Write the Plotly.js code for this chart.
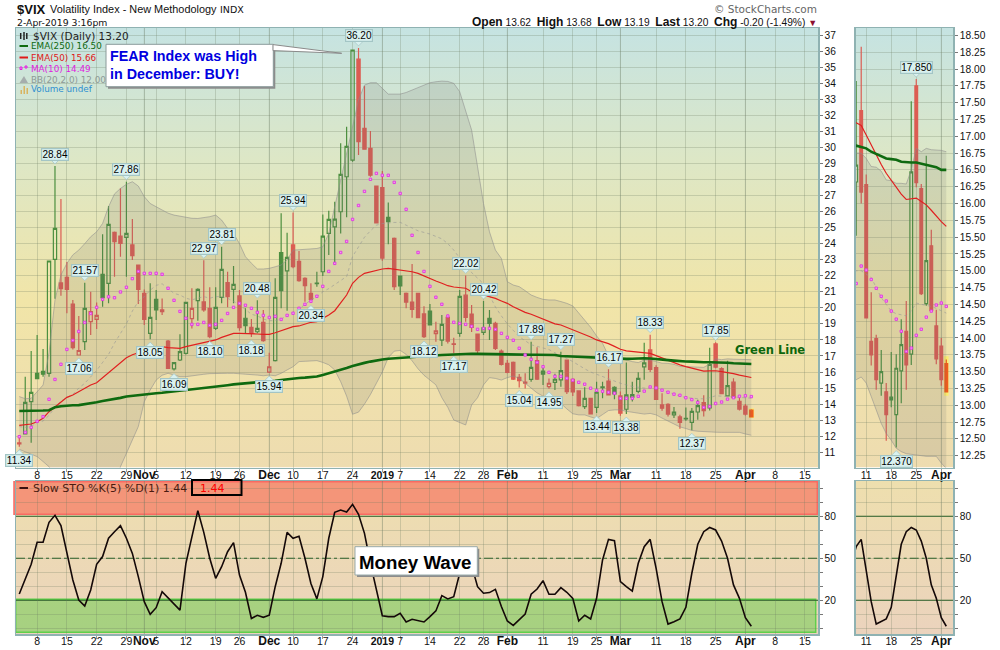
<!DOCTYPE html>
<html><head><meta charset="utf-8">
<script src="https://cdn.plot.ly/plotly-3.0.1.min.js"></script>
<style>html,body{margin:0;padding:0;background:#fff}#c{width:1000px;height:650px}</style>
</head><body><div id="c"></div><script>
const open=[11.58,12.14,14.15,15.92,16.04,15.92,23.02,21.55,21.90,20.24,17.06,17.89,19.14,19.28,22.09,21.52,24.70,24.47,24.39,23.92,22.67,20.90,18.41,20.53,19.87,17.93,16.20,16.75,17.16,19.33,20.45,20.37,19.97,18.72,20.65,21.58,21.15,20.74,19.35,18.78,18.51,19.10,16.00,16.71,23.45,22.31,23.92,22.90,21.84,20.90,21.50,22.25,24.64,25.05,25.99,28.17,29.20,35.50,31.18,29.94,27.59,27.50,25.64,24.33,21.98,20.90,20.36,20.90,19.62,19.80,18.39,17.99,19.41,17.76,18.41,20.79,19.61,18.37,18.47,19.34,19.03,17.31,16.54,16.60,15.67,15.37,15.54,16.71,16.06,15.09,15.36,15.51,16.75,15.55,14.82,13.85,14.36,13.80,15.03,15.44,15.05,14.51,13.68,14.43,14.80,16.32,17.38,16.28,13.95,13.99,13.33,13.20,13.12,12.86,13.51,14.10,13.76,17.75,16.22,14.51,15.37,14.18,13.88,13.62];
const high=[12.08,15.71,17.31,18.31,17.43,22.92,28.84,26.78,22.86,20.49,19.49,21.57,21.00,20.34,24.58,26.35,24.75,27.46,27.86,25.53,22.68,21.15,21.53,21.11,20.59,18.00,16.60,18.35,20.34,21.22,21.22,22.97,21.28,21.28,23.81,22.25,22.60,21.11,19.97,19.30,20.48,19.87,17.20,21.85,25.90,24.68,25.94,23.54,21.90,21.53,22.25,25.82,26.05,26.61,30.25,31.29,36.07,36.20,33.82,31.02,27.60,28.53,26.57,24.39,22.00,20.95,22.73,20.90,20.10,20.24,19.13,19.55,19.59,18.14,21.11,22.02,20.17,18.37,20.42,19.86,19.13,17.40,16.75,16.65,15.88,15.92,17.89,17.54,16.33,15.60,15.90,17.27,16.78,15.60,14.85,15.05,14.40,15.40,15.40,16.17,15.12,14.78,16.59,15.40,15.98,17.82,18.33,16.43,14.68,14.05,13.82,13.33,13.79,13.76,14.28,14.55,17.52,17.85,16.29,16.71,15.61,14.42,14.00,13.68];
const low=[11.34,12.14,11.60,15.59,15.71,15.71,20.57,20.76,19.66,17.41,17.06,17.37,18.31,18.68,20.07,20.28,21.94,23.19,21.94,22.98,20.24,18.93,18.05,19.24,19.55,16.23,16.09,16.69,17.10,18.72,19.20,19.76,18.10,18.62,20.28,20.03,20.28,18.57,18.37,18.18,18.41,17.89,15.94,16.65,19.97,19.82,22.46,21.63,20.38,20.34,21.31,21.98,23.29,22.67,24.64,25.64,29.10,29.52,29.89,28.17,25.26,22.94,23.97,21.11,20.80,19.97,19.39,19.39,18.12,18.93,17.89,17.62,17.78,17.17,18.20,19.14,18.50,17.17,18.30,18.00,17.37,16.40,15.92,15.50,15.04,14.98,15.40,15.50,15.19,14.95,14.88,15.09,14.63,14.51,13.85,13.70,13.39,13.44,14.36,14.57,14.30,13.28,13.38,14.16,14.68,15.52,16.00,14.30,13.59,13.23,13.14,12.47,12.97,12.37,13.03,13.23,13.60,16.24,14.64,14.48,14.39,13.61,13.29,13.19];
const close=[11.52,14.11,14.73,15.59,15.86,22.92,24.95,21.19,21.15,17.52,17.34,19.97,19.76,19.53,20.63,25.20,24.12,24.02,24.64,23.25,21.15,19.28,19.41,19.87,19.76,16.23,16.58,17.27,20.34,19.97,21.15,19.87,18.20,20.03,22.40,20.69,21.46,18.76,18.89,18.41,18.72,17.95,16.33,20.65,21.07,23.15,22.56,21.69,21.38,20.53,21.54,24.47,25.51,25.53,28.32,30.06,36.07,30.35,29.89,28.27,25.30,23.10,25.37,21.32,21.36,20.36,19.90,19.39,18.20,18.93,18.56,18.97,17.93,17.72,20.71,19.41,18.78,17.33,18.76,19.03,17.47,16.48,15.98,15.56,15.46,15.30,16.29,15.56,15.87,15.30,15.55,16.09,14.78,14.76,13.91,14.36,13.39,14.74,15.07,14.57,14.63,13.43,14.57,14.60,15.61,16.57,16.17,14.30,13.75,13.38,13.50,12.86,13.08,13.55,13.90,13.60,16.47,16.31,14.66,15.15,14.41,13.69,13.38,13.20];
const ema250=[13.57,13.57,13.58,13.58,13.60,13.62,13.80,13.87,13.92,13.93,13.94,13.99,14.05,14.12,14.20,14.25,14.30,14.39,14.47,14.52,14.57,14.61,14.65,14.68,14.71,14.75,14.78,14.83,14.88,14.91,14.94,14.99,15.03,15.08,15.13,15.18,15.23,15.27,15.30,15.33,15.36,15.38,15.40,15.45,15.50,15.55,15.61,15.63,15.65,15.67,15.72,15.82,15.92,16.02,16.13,16.25,16.37,16.48,16.57,16.65,16.73,16.78,16.83,16.86,16.89,16.92,16.95,16.97,17.00,17.02,17.04,17.06,17.08,17.10,17.13,17.15,17.14,17.13,17.12,17.12,17.11,17.11,17.10,17.10,17.09,17.09,17.08,17.08,17.07,17.07,17.06,17.00,16.98,16.96,16.95,16.93,16.92,16.90,16.88,16.86,16.84,16.82,16.82,16.83,16.85,16.86,16.84,16.82,16.77,16.74,16.71,16.67,16.66,16.65,16.62,16.61,16.61,16.61,16.59,16.58,16.55,16.54,16.50,16.50];
const ema50=[12.68,12.70,12.76,12.90,13.12,13.53,13.84,14.15,14.42,14.57,14.78,14.96,15.19,15.33,15.65,15.92,16.23,16.58,16.89,17.08,17.20,17.43,17.53,17.58,17.58,17.52,17.48,17.48,17.58,17.66,17.75,17.83,17.89,18.00,18.16,18.27,18.41,18.41,18.41,18.41,18.37,18.35,18.35,18.45,18.58,18.68,18.83,18.87,18.99,19.10,19.14,19.35,19.55,19.82,20.28,20.80,21.53,21.90,22.15,22.25,22.36,22.42,22.46,22.40,22.36,22.32,22.25,22.15,21.98,21.84,21.67,21.53,21.38,21.30,21.26,21.22,21.00,20.90,20.80,20.70,20.59,20.43,20.28,20.07,19.87,19.72,19.60,19.45,19.31,19.14,19.00,18.93,18.78,18.62,18.50,18.37,18.18,18.00,17.90,17.77,17.60,17.42,17.32,17.27,17.23,17.20,17.16,17.02,16.87,16.72,16.58,16.45,16.34,16.24,16.14,16.06,16.07,16.08,16.03,15.98,15.90,15.81,15.73,15.66];
const ma10=[11.97,12.24,12.55,12.93,13.22,14.30,15.54,16.48,17.41,17.97,18.53,19.09,19.65,20.03,20.53,20.69,20.63,20.99,21.28,21.82,22.27,22.15,22.15,22.15,22.09,21.22,20.47,19.78,19.35,18.97,18.97,19.09,18.91,18.97,19.22,19.65,20.03,20.28,20.16,19.97,19.72,19.53,19.40,19.47,19.28,19.53,19.66,19.97,20.22,20.41,20.72,21.34,22.27,22.77,23.45,24.14,25.51,26.38,27.26,28.01,28.38,28.26,28.26,27.82,27.13,26.14,24.52,23.45,22.27,21.34,20.66,20.22,19.49,19.10,19.03,18.97,18.85,18.66,18.72,18.72,18.66,18.41,18.16,17.98,17.48,17.06,16.79,16.60,16.33,15.98,15.73,15.73,15.61,15.49,15.36,15.24,14.99,14.86,14.80,14.74,14.68,14.36,14.36,14.36,14.49,14.81,15.07,15.01,14.87,14.74,14.62,14.55,14.40,14.28,14.10,13.80,13.85,14.04,14.13,14.31,14.40,14.49,14.52,14.47];
const bbUpper=[14.47,14.34,14.36,14.78,15.19,17.20,20.49,22.05,22.77,23.30,23.60,24.00,24.43,24.74,25.26,26.30,27.10,27.44,27.70,27.86,27.59,26.93,26.50,26.30,26.10,25.90,25.78,25.70,25.62,25.58,25.57,25.62,25.68,25.78,25.47,24.95,24.64,24.00,23.19,22.78,22.42,22.42,22.46,22.56,22.67,22.98,23.60,23.62,23.65,23.68,23.70,23.80,24.64,26.30,27.96,29.41,31.28,32.95,33.88,34.03,34.03,33.68,33.32,33.32,33.32,33.42,33.57,33.71,33.88,34.03,34.09,34.13,34.11,33.99,33.47,32.32,31.08,28.79,26.50,24.74,23.60,23.08,21.63,21.42,21.32,21.07,20.80,20.65,20.53,20.49,20.49,20.39,20.28,20.12,19.66,19.18,18.79,18.25,17.79,17.00,16.90,16.86,16.75,16.65,16.59,16.75,16.75,16.67,16.55,16.54,16.48,16.35,16.34,16.30,16.30,16.29,16.50,16.82,16.77,16.82,16.80,16.80,16.79,16.77];
const bbLower=[11.18,11.04,10.89,10.73,10.42,10.10,9.50,8.90,8.30,7.90,7.60,7.30,7.10,7.00,7.30,7.70,8.30,10.10,10.93,11.77,12.60,14.15,14.88,15.50,15.80,15.92,15.80,15.71,15.71,15.77,15.81,15.86,15.90,15.92,15.92,15.92,15.92,15.90,15.88,15.84,15.81,15.77,15.81,15.77,15.92,16.13,16.33,16.65,16.68,16.70,16.71,16.60,16.45,16.13,15.40,14.50,13.37,13.50,14.00,14.60,15.30,16.00,16.90,17.30,17.35,17.10,16.70,16.20,15.80,15.50,15.20,14.40,13.80,13.01,12.85,12.70,13.95,14.40,15.20,15.65,15.60,15.50,15.65,15.75,15.60,15.30,14.95,14.70,14.50,14.35,14.20,14.05,13.70,13.40,13.33,13.33,13.20,13.10,13.35,13.60,13.64,13.64,13.55,13.50,13.43,13.38,13.42,13.33,13.13,12.93,12.73,12.58,12.48,12.36,12.31,12.28,12.27,12.25,12.24,12.24,12.24,12.24,12.14,12.06];
const bbMid=[12.60,12.55,12.60,12.85,12.95,13.30,13.80,14.20,14.40,14.60,15.00,15.30,15.70,16.10,16.60,17.10,17.80,18.40,19.00,19.80,20.40,20.70,21.10,21.40,21.50,21.20,20.90,20.80,20.60,20.50,20.60,20.70,20.60,20.70,20.70,20.60,20.40,20.20,19.90,19.60,19.50,19.30,19.20,19.20,19.30,19.50,19.70,19.95,20.20,20.50,20.70,21.00,21.20,21.45,21.70,21.95,23.20,23.80,24.40,24.80,25.15,25.25,25.30,25.32,25.33,25.15,24.95,24.80,24.70,24.60,24.45,24.30,24.00,23.60,23.10,22.55,22.20,21.85,21.50,20.80,20.05,19.50,19.00,18.60,18.20,17.95,17.70,17.60,17.50,17.40,17.20,17.05,16.85,16.65,16.40,16.20,16.00,15.85,15.70,15.60,15.45,15.30,15.20,15.10,15.05,15.00,15.00,14.95,14.90,14.75,14.60,14.50,14.40,14.36,14.34,14.33,14.40,14.52,14.50,14.49,14.47,14.44,14.40,14.37];
const stoK=[24.5,35.7,45.7,61.4,61.4,75.7,80.7,73.3,54.7,34.5,20.2,15.9,27.4,45.7,51.2,64.3,69,73.3,64.3,53.5,36.9,19,10,14.7,26.2,21.9,17.4,13,46.4,65.5,84,68.5,50,35.7,44,54.7,61.2,38,25.7,7,9.3,7.8,9.3,29.7,46.4,68.5,64.3,65.7,50,32,21,36.9,64.3,82.8,84.5,83,88.5,81.4,67.8,46.4,28.5,9,8.3,8.3,10.7,4.5,6.4,5.7,4.5,8.3,12.4,23.3,21,22.6,39.3,52,45,29.7,25,25.5,27.8,15.5,5.2,2.1,5.9,10.2,24.3,28,34,24.3,24.3,29,25.7,21.4,5.2,9.3,6.7,21.4,48.8,63.5,62.6,33.3,29.7,26.6,46.4,58.3,63.5,42.8,19,3,4.7,6.7,15,39.3,60,69,72,70.2,62.3,50,31,21.4,7.6,1.44];
const tickIdx=[3,8,13,18,21,23,28,33,37,42,46,51,56,61,64,69,74,78,82,88,93,97,101,107,112,117,122,127,132];
const MB=(t,s)=>`<b style="font-family:'Liberation Sans';font-size:${s||12}px">${t}</b>`;
const tickLabels=["8","15","22","29",MB("Nov"),"5","12","19","26",MB("Dec"),"10","17","24",MB("2019",10.5),"7","14","22","28",MB("Feb"),"11","19","25",MB("Mar"),"11","18","25",MB("Apr"),"8","15"];
const monthIdx=[21,42,61,82,101,122];
const miniTickIdx=[107,112,117,122];
const miniTickLabels=["11","18","25",MB("Apr")];
const labelIdx=[0,6,11,10,18,22,26,31,32,34,40,39,42,46,49,57,68,75,73,78,84,86,89,91,99,97,102,106,113,117];
const labelVal=[11.34,28.84,21.57,17.06,27.86,18.05,16.09,22.97,18.10,23.81,20.48,18.18,15.94,25.94,20.34,36.20,18.12,22.02,17.17,20.42,15.04,17.89,14.95,17.27,16.17,13.44,13.38,18.33,12.37,17.85];
const labelUp=[0,1,1,0,1,0,0,1,0,1,1,0,0,1,0,1,0,1,0,1,0,1,0,1,1,0,0,1,0,1];
const priceTicks=[];for(let v=11;v<=37;v++)priceTicks.push(v);
const miniTicks=[];for(let v=12.25;v<=18.5;v+=0.25)miniTicks.push(v);
const stoTicks=[0,10,20,30,40,50,60,70,80,90,100];
const stoTickText=["","","20","","","50","","","80","",""];

const W=1000,H=650;
const px=x=>x/W, py=y=>1-y/H;
const P={main:[16,818,28,467.5],sto:[16,818,481,634.3],mini:[855.7,953.3,28,467.5],msto:[855.7,953.3,481,634.3]};
const idx=open.map((_,i)=>i);
const FONT='"DejaVu Sans"';
const LIB='"Liberation Sans"';
const GREEN='#4c8f3f',RED='#dc5c52';
function sub(a,keep){return keep.map(i=>a[i]);}
const grn=idx.filter(i=>i<123&&(i===0?false:close[i]>close[i-1]));
const red=idx.filter(i=>i<123&&!(i===0?false:close[i]>close[i-1]));
function candle(keep,col,xa,ya,w){
 return {type:'candlestick',x:sub(idx,keep),open:sub(open,keep),high:sub(high,keep),low:sub(low,keep),close:sub(close,keep),xaxis:xa,yaxis:ya,whiskerwidth:0,hoverinfo:'skip',showlegend:false,
  increasing:{line:{color:col,width:w},fillcolor:'rgba(0,0,0,0)'},decreasing:{line:{color:col,width:w},fillcolor:col}};
}
function overlays(xa,ya){
 return [
  {type:'scatter',mode:'lines',x:idx,y:bbUpper,xaxis:xa,yaxis:ya,line:{color:'rgba(140,140,140,0.55)',width:1},hoverinfo:'skip',showlegend:false},
  {type:'scatter',mode:'lines',x:idx,y:bbLower,xaxis:xa,yaxis:ya,fill:'tonexty',fillcolor:'rgba(110,110,110,0.16)',line:{color:'rgba(140,140,140,0.55)',width:1},hoverinfo:'skip',showlegend:false},
  {type:'scatter',mode:'lines',x:idx,y:bbMid,xaxis:xa,yaxis:ya,line:{color:'rgba(150,150,150,0.6)',width:1,dash:'dot'},hoverinfo:'skip',showlegend:false}
 ];
}
function lines(xa,ya){
 return [
  {type:'scatter',mode:'lines',x:idx,y:ema50,xaxis:xa,yaxis:ya,line:{color:'#e02020',width:1.2},hoverinfo:'skip',showlegend:false},
  {type:'scatter',mode:'lines',x:idx,y:ema250,xaxis:xa,yaxis:ya,line:{color:'#0f6a10',width:2.6},hoverinfo:'skip',showlegend:false},
  {type:'scatter',mode:'markers',x:idx,y:ma10,xaxis:xa,yaxis:ya,marker:{symbol:'square',size:2.4,color:'#f49cf0',line:{color:'#e236e2',width:0.9}},hoverinfo:'skip',showlegend:false}
 ];
}
const data=[
 ...overlays('x','y'),
 candle(grn,GREEN,'x','y',1.2),candle(red,RED,'x','y',1.2),candle([123],'#ee5a1c','x','y',1.2),
 ...lines('x','y'),
 {type:'scatter',mode:'lines',x:idx,y:stoK,xaxis:'x2',yaxis:'y2',line:{color:'#140808',width:1.6},hoverinfo:'skip',showlegend:false},
 ...overlays('x3','y3'),
 candle(grn,GREEN,'x3','y3',1.2),candle(red,RED,'x3','y3',1.2),candle([123],'#ee5a1c','x3','y3',1.2),
 ...lines('x3','y3'),
 {type:'scatter',mode:'lines',x:idx,y:stoK,xaxis:'x4',yaxis:'y4',line:{color:'#140808',width:1.6},hoverinfo:'skip',showlegend:false}
];
const BORDER='#8fb2b2',GRID='rgba(110,125,95,0.26)';
function xax(p,anchor,range,tv,tt){return {domain:[px(p[0]),px(p[1])],range,anchor,tickmode:'array',tickvals:tv,ticktext:tt,ticks:'outside',ticklen:3,tickcolor:'#999',ticklabelstandoff:-6,showline:true,mirror:true,linecolor:BORDER,linewidth:1.5,showgrid:true,gridcolor:GRID,gridwidth:1,zeroline:false,rangeslider:{visible:false},tickfont:{family:LIB,size:10.5,color:'#111'},fixedrange:true,tickangle:0};}
function yax(p,anchor,range,tv,tt,fs){return {domain:[py(p[3]),py(p[2])],range,anchor,side:'right',tickmode:'array',tickvals:tv,ticktext:tt,ticks:'outside',ticklen:3,tickcolor:'#777',showline:true,mirror:true,linecolor:BORDER,linewidth:1.5,showgrid:true,gridcolor:GRID,gridwidth:1,zeroline:false,tickfont:{family:LIB,size:fs||10.2,color:'#111'},fixedrange:true};}
const xrMain=[-0.55,134.2],xrMini=[104.9,124.4];
const layout={width:W,height:H,margin:{l:0,r:0,t:0,b:0,pad:0},paper_bgcolor:'#fff',plot_bgcolor:'rgba(0,0,0,0)',showlegend:false,boxgap:0.22,font:{family:FONT,size:11},
 xaxis:xax(P.main,'y',xrMain,tickIdx,tickLabels),
 yaxis:yax(P.main,'x',[10.05,37.44],priceTicks,priceTicks.map(String)),
 xaxis2:xax(P.sto,'y2',xrMain,tickIdx,tickLabels),
 yaxis2:yax(P.sto,'x2',[-4.3,105.2],stoTicks,stoTickText),
 xaxis3:xax(P.mini,'y3',xrMini,miniTickIdx,miniTickLabels),
 yaxis3:yax(P.mini,'x3',[12.074,18.61],miniTicks,miniTicks.map(v=>v.toFixed(2))),
 xaxis4:xax(P.msto,'y4',xrMini,miniTickIdx,miniTickLabels),
 yaxis4:yax(P.msto,'x4',[-4.3,105.2],stoTicks,stoTickText),
 images:[],shapes:[],annotations:[]};
function grad(stops){const s=stops.map(a=>`<stop offset="${a[0]}" stop-color="${a[1]}"/>`).join('');
 return 'data:image/svg+xml;utf8,'+encodeURIComponent(`<svg xmlns="http://www.w3.org/2000/svg" width="100" height="100" viewBox="0 0 100 100" preserveAspectRatio="none"><defs><linearGradient id="g" x1="0" y1="0" x2="0" y2="1">${s}</linearGradient></defs><rect width="100" height="100" fill="url(#g)"/></svg>`);}
const priceGrad=grad([[0,'#c5e3e2'],[0.3,'#dde7c6'],[0.62,'#f1e5a8'],[1,'#eedcb0']]);
const stoGrad=grad([[0,'#eedfae'],[1,'#ebd3bd']]);
[[P.main,priceGrad],[P.mini,priceGrad],[P.sto,stoGrad],[P.msto,stoGrad]].forEach(([p,g])=>layout.images.push({source:g,xref:'paper',yref:'paper',x:px(p[0]),y:py(p[2]),sizex:(p[1]-p[0])/W,sizey:(p[3]-p[2])/H,sizing:'stretch',xanchor:'left',yanchor:'top',layer:'below'}));
const S=layout.shapes,A=layout.annotations;
function rect(x0,y0,x1,y1,fill,lc,lw,layer){S.push({type:'rect',xref:'paper',yref:'paper',x0:px(x0),x1:px(x1),y0:py(y0),y1:py(y1),fillcolor:fill,line:{color:lc||'rgba(0,0,0,0)',width:lw||0},layer:layer||'above'});}
rect(14,481.7,817.3,514.3,'rgba(246,120,100,0.72)','#f96a62',1.5,'below');
rect(15.7,599.3,815.7,632.3,'rgba(100,205,70,0.5)','#5fd04b',1.5,'below');
monthIdx.forEach(m=>{[['x','y'],['x2','y2']].forEach(([xa,ya])=>S.push({type:'line',xref:xa,yref:ya+' domain',x0:m,x1:m,y0:0,y1:1,line:{color:'rgba(95,115,95,0.22)',width:1},layer:'below'}));});
[['x3','y3'],['x4','y4']].forEach(([xa,ya])=>S.push({type:'line',xref:xa,yref:ya+' domain',x0:122,x1:122,y0:0,y1:1,line:{color:'rgba(95,115,95,0.22)',width:1},layer:'below'}));
[['x2','y2'],['x4','y4']].forEach(([xa,ya])=>{
 S.push({type:'line',xref:xa+' domain',yref:ya,x0:0,x1:1,y0:80,y1:80,line:{color:'#1c5a1c',width:1},layer:'below'});
 S.push({type:'line',xref:xa+' domain',yref:ya,x0:0,x1:1,y0:50,y1:50,line:{color:'#1c5a1c',width:1,dash:'dashdot'},layer:'below'});
 S.push({type:'line',xref:xa+' domain',yref:ya,x0:0,x1:1,y0:20,y1:20,line:{color:'#1c5a1c',width:1},layer:'below'});
});
[['x','y'],['x3','y3']].forEach(([xa,ya])=>S.push({type:'rect',xref:xa,yref:ya,x0:122.55,x1:123.45,y0:low[123]-0.05,y1:high[123]+0.05,fillcolor:'rgba(255,240,90,0.75)',line:{width:0},layer:'below'}));
rect(108,46.3,275.3,88.7,'#8c8c8c');
rect(106,44.3,273.3,86.7,'#ffffff','#8a9a9a',1);
S.push({type:'path',xref:'paper',yref:'paper',path:`M ${px(273)} ${py(44.6)} L ${px(341.7)} ${py(53.3)} L ${px(273)} ${py(50.6)} Z`,fillcolor:'#ffffff',line:{color:'#8a8a8a',width:1},layer:'above'});
rect(357,548.7,479.3,577,'#8c8c8c');
rect(355,546.7,477.3,575,'#ffffff','#9aa',1);
rect(192,480,241.5,495,'rgba(0,0,0,0)','#000',2);
function T(x,y,text,size,color,opt){A.push(Object.assign({xref:'paper',yref:'paper',x:px(x),y:py(y),text,showarrow:false,xanchor:'left',yanchor:'middle',font:{family:FONT,size,color},borderpad:0},opt||{}));}
T(16,9.5,'<b>$VIX</b>',13,'#111',{font:{family:LIB,size:13,color:'#111'}});
T(49,9.5,'Volatility Index - New Methodology',10.9,'#111',{font:{family:LIB,size:10.9,color:'#111'}});
T(219,9.5,'INDX',9.5,'#111');
T(16,22.5,'2-Apr-2019 3:16pm',9.3,'#111');
T(818,9.5,'© StockCharts.com',10.5,'#666',{xanchor:'right'});
const HB=t=>`<b style="font-size:12px">${t}</b>`;
T(818,22.5,`${HB('Open')} 13.62  ${HB('High')} 13.68  ${HB('Low')} 13.19  ${HB('Last')} 13.20  ${HB('Chg')} -0.20 (-1.49%) <span style="color:#8b1030;font-size:9px">▼</span>`,10,'#111',{xanchor:'right',font:{family:LIB,size:10.2,color:'#111'}});
T(31.5,35.5,'$VIX (Daily) 13.20',10.5,'#222');
T(29.5,46,'EMA(250) 16.50',8.8,'#0f6a10');
T(29.5,57.5,'EMA(50) 15.66',8.8,'#e01818');
T(29.5,68.5,'MA(10) 14.49',8.8,'#e020e0');
T(29.5,79.5,'BB(20,2.0) 12.00',8.8,'#8d9a96');
T(29.5,89.5,'Volume undef',8.8,'#2f8fd0');
[[46,'#0f6a10'],[57.5,'#e01818']].forEach(([y,c])=>S.push({type:'line',xref:'paper',yref:'paper',x0:px(19.5),x1:px(28),y0:py(y),y1:py(y),line:{color:c,width:2},layer:'above'}));
rect(20,67,22,69.5,'#f49cf0','#e020e0',1);rect(25,66,27,68,'#f49cf0','#e020e0',1);
S.push({type:'path',xref:'paper',yref:'paper',path:`M ${px(19.5)} ${py(83)} L ${px(24)} ${py(76)} L ${px(28)} ${py(83)} Z`,fillcolor:'#a5adad',line:{width:0},layer:'above'});
[20.5,23.5,26.5].forEach((x,i)=>rect(x,[90,86,88][i],x+1.5,94,'#d9b45f'));
[[20.7,33,39],[24,32,40],[26.8,33,39]].forEach(a=>S.push({type:'line',xref:'paper',yref:'paper',x0:px(a[0]),x1:px(a[0]),y0:py(a[1]),y1:py(a[2]),line:{color:'#222',width:1.5},layer:'above'}));
T(108.5,55.5,'<b>FEAR Index was High</b>',14.3,'#0000e0',{font:{family:LIB,size:14.3,color:'#0000e0'}});
T(108.5,74,'<b>in December: BUY!</b>',14.3,'#0000e0',{font:{family:LIB,size:14.3,color:'#0000e0'}});
T(358,562,'<b>Money Wave</b>',18.7,'#000',{font:{family:LIB,size:18.7,color:'#000'}});
T(734,350.5,'<b>Green Line</b>',11.5,'#0c660c');
S.push({type:'line',xref:'paper',yref:'paper',x0:px(19.5),x1:px(28),y0:py(488),y1:py(488),line:{color:'#3a1010',width:2},layer:'above'});
T(31.5,488.5,'Slow STO %K(5) %D(1) 1.44',11,'#4a1a10');
T(198.5,488.5,'1.44',11,'#ff0000');
function flag(i,v,up,xa,ya,txt){
 S.push({type:'path',xref:xa,yref:ya,xsizemode:'pixel',ysizemode:'pixel',xanchor:i,yanchor:v,path:up?'M -5 7 L 0 2 L 5 7 Z':'M -5 -8 L 0 -3 L 5 -8 Z',fillcolor:'#d9f1ef',line:{color:'#a8c8c8',width:0.8},layer:'above'});
 A.push({xref:xa,yref:ya,x:i,y:v,text:txt,showarrow:false,xanchor:'center',yanchor:'middle',yshift:up?12:-13.5,bgcolor:'#d9f1ef',bordercolor:'#a3c5c5',borderwidth:1.2,borderpad:0,width:txt.length>5?31:26,height:11,align:'center',valign:'middle',font:{family:LIB,size:10,color:'#000'}});
}
labelIdx.forEach((i,k)=>flag(i,labelVal[k],labelUp[k],'x','y',labelVal[k].toFixed(2)));
flag(117,17.85,1,'x3','y3','17.850');flag(113,12.37,0,'x3','y3','12.370');
Plotly.newPlot('c',data,layout,{staticPlot:true,displayModeBar:false});
</script></body></html>
